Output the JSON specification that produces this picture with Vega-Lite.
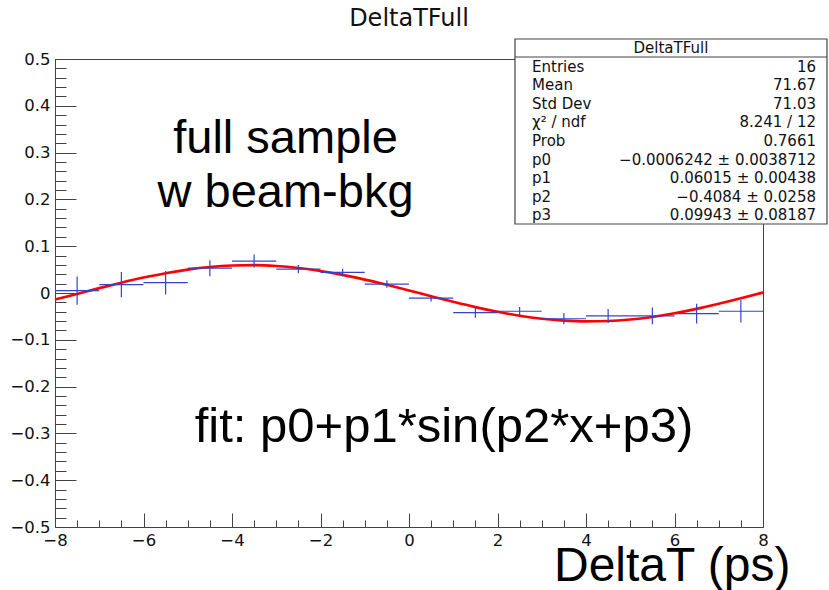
{
  "$schema": "https://vega.github.io/schema/vega-lite/v6.json",
  "width": 708,
  "height": 468,
  "autosize": "none",
  "padding": {"left": 55, "top": 59, "right": 66, "bottom": 63},
  "background": "white",
  "title": {"text": "DeltaTFull", "frame": "group", "anchor": "middle", "font": "DejaVu Sans", "fontSize": 24, "fontWeight": "normal", "color": "#111", "baseline": "alphabetic", "offset": -12},
  "config": {
    "view": {"stroke": "#444", "strokeWidth": 1},
    "axis": {"grid": false, "domainColor": "#444", "tickColor": "#444", "labelColor": "#111", "labelFont": "DejaVu Sans", "labelFontSize": 16.5, "labelOverlap": false, "labelFlush": false}
  },
  "resolve": {"axis": {"x": "independent", "y": "independent"}},
  "datasets": {
    "hist": [
      {"x": -7.5, "xlo": -8, "xhi": -7, "y": 0.005, "ylo": -0.025, "yhi": 0.035},
      {"x": -6.5, "xlo": -7, "xhi": -6, "y": 0.018, "ylo": -0.009, "yhi": 0.045},
      {"x": -5.5, "xlo": -6, "xhi": -5, "y": 0.022, "ylo": -0.003, "yhi": 0.047},
      {"x": -4.5, "xlo": -5, "xhi": -4, "y": 0.053, "ylo": 0.036, "yhi": 0.070},
      {"x": -3.5, "xlo": -4, "xhi": -3, "y": 0.068, "ylo": 0.054, "yhi": 0.082},
      {"x": -2.5, "xlo": -3, "xhi": -2, "y": 0.051, "ylo": 0.042, "yhi": 0.060},
      {"x": -1.5, "xlo": -2, "xhi": -1, "y": 0.044, "ylo": 0.036, "yhi": 0.052},
      {"x": -0.5, "xlo": -1, "xhi": 0, "y": 0.019, "ylo": 0.011, "yhi": 0.027},
      {"x": 0.5, "xlo": 0, "xhi": 1, "y": -0.011, "ylo": -0.018, "yhi": -0.004},
      {"x": 1.5, "xlo": 1, "xhi": 2, "y": -0.042, "ylo": -0.053, "yhi": -0.031},
      {"x": 2.5, "xlo": 2, "xhi": 3, "y": -0.039, "ylo": -0.048, "yhi": -0.030},
      {"x": 3.5, "xlo": 3, "xhi": 4, "y": -0.055, "ylo": -0.067, "yhi": -0.043},
      {"x": 4.5, "xlo": 4, "xhi": 5, "y": -0.049, "ylo": -0.064, "yhi": -0.034},
      {"x": 5.5, "xlo": 5, "xhi": 6, "y": -0.049, "ylo": -0.067, "yhi": -0.031},
      {"x": 6.5, "xlo": 6, "xhi": 7, "y": -0.044, "ylo": -0.065, "yhi": -0.023},
      {"x": 7.5, "xlo": 7, "xhi": 8, "y": -0.039, "ylo": -0.063, "yhi": -0.015}
    ],
    "fit": [
      {"x": -8, "y": -0.0140}, {"x": -7.5, "y": -0.0019}, {"x": -7, "y": 0.0104}, {"x": -6.5, "y": 0.0221},
      {"x": -6, "y": 0.0329}, {"x": -5.5, "y": 0.0424}, {"x": -5, "y": 0.0500}, {"x": -4.5, "y": 0.0556},
      {"x": -4, "y": 0.0587}, {"x": -3.5, "y": 0.0595}, {"x": -3, "y": 0.0577}, {"x": -2.5, "y": 0.0535},
      {"x": -2, "y": 0.0471}, {"x": -1.5, "y": 0.0387}, {"x": -1, "y": 0.0286}, {"x": -0.5, "y": 0.0174},
      {"x": 0, "y": 0.0054}, {"x": 0.5, "y": -0.0069}, {"x": 1, "y": -0.0189}, {"x": 1.5, "y": -0.0302},
      {"x": 2, "y": -0.0402}, {"x": 2.5, "y": -0.0485}, {"x": 3, "y": -0.0549}, {"x": 3.5, "y": -0.0590},
      {"x": 4, "y": -0.0607}, {"x": 4.5, "y": -0.0599}, {"x": 5, "y": -0.0567}, {"x": 5.5, "y": -0.0511},
      {"x": 6, "y": -0.0434}, {"x": 6.5, "y": -0.0339}, {"x": 7, "y": -0.0231}, {"x": 7.5, "y": -0.0113},
      {"x": 8, "y": 0.0010}
    ]
  },
  "layer": [
    {
      "data": {"name": "fit"},
      "mark": {"type": "line", "color": "#ff0000", "strokeWidth": 2.6, "interpolate": "monotone"},
      "encoding": {
        "x": {"field": "x", "type": "quantitative", "scale": {"domain": [-8, 8], "nice": false, "zero": false},
          "axis": {"orient": "bottom", "title": "DeltaT (ps)", "titleFont": "Liberation Sans", "titleFontSize": 48, "titleFontWeight": "normal", "titleColor": "#000",
            "titleAlign": "right", "titleX": 735, "titleY": 53, "titleBaseline": "alphabetic",
            "values": [-8,-6,-4,-2,0,2,4,6,8],
            "tickSize": -14,
            "format": "d",
            "labelPadding": 19}},
        "y": {"field": "y", "type": "quantitative", "scale": {"domain": [-0.5, 0.5], "nice": false, "zero": false},
          "axis": {"orient": "left", "title": null,
            "values": [-0.5,-0.4,-0.3,-0.2,-0.1,0,0.1,0.2,0.3,0.4,0.5],
            "tickSize": -21,
            "labelExpr": "abs(datum.value) < 0.001 ? '0' : format(datum.value, '.1f')",
            "labelPadding": 26}}
      }
    },
    {
      "data": {"name": "hist"},
      "mark": {"type": "rule", "color": "#3344cc", "strokeWidth": 1.2},
      "encoding": {
        "x": {"field": "xlo", "type": "quantitative",
          "axis": {"orient": "bottom", "title": null, "labels": false, "domain": false, "tickSize": -7,
            "values": [-8,-7.5,-7,-6.5,-6,-5.5,-5,-4.5,-4,-3.5,-3,-2.5,-2,-1.5,-1,-0.5,0,0.5,1,1.5,2,2.5,3,3.5,4,4.5,5,5.5,6,6.5,7,7.5,8]}},
        "x2": {"field": "xhi"},
        "y": {"field": "y", "type": "quantitative",
          "axis": {"orient": "left", "title": null, "labels": false, "domain": false, "tickSize": -11,
            "values": [-0.5,-0.48,-0.46,-0.44,-0.42,-0.4,-0.38,-0.36,-0.34,-0.32,-0.3,-0.28,-0.26,-0.24,-0.22,-0.2,-0.18,-0.16,-0.14,-0.12,-0.1,-0.08,-0.06,-0.04,-0.02,0,0.02,0.04,0.06,0.08,0.1,0.12,0.14,0.16,0.18,0.2,0.22,0.24,0.26,0.28,0.3,0.32,0.34,0.36,0.38,0.4,0.42,0.44,0.46,0.48,0.5]}}
      }
    },
    {
      "data": {"name": "hist"},
      "mark": {"type": "rule", "color": "#3344cc", "strokeWidth": 1.2},
      "encoding": {
        "x": {"field": "x", "type": "quantitative", "axis": null},
        "y": {"field": "ylo", "type": "quantitative", "axis": null},
        "y2": {"field": "yhi"}
      }
    },
    {
      "data": {"values": [{}]},
      "mark": {"type": "text", "font": "Liberation Sans", "fontSize": 47, "align": "center", "baseline": "alphabetic", "lineHeight": 54, "color": "#000"},
      "encoding": {
        "x": {"datum": -2.79, "type": "quantitative", "axis": null},
        "y": {"datum": 0.2991, "type": "quantitative", "axis": null},
        "text": {"value": ["full sample", "w beam-bkg"]}
      }
    },
    {
      "data": {"values": [{}]},
      "mark": {"type": "text", "font": "Liberation Sans", "fontSize": 49, "align": "center", "baseline": "alphabetic", "color": "#000"},
      "encoding": {
        "x": {"datum": 0.79, "type": "quantitative", "axis": null},
        "y": {"datum": -0.3184, "type": "quantitative", "axis": null},
        "text": {"value": "fit: p0+p1*sin(p2*x+p3)"}
      }
    },
    {
      "data": {"values": [{}]},
      "mark": {"type": "rect", "fill": "white", "stroke": "#444", "strokeWidth": 1.2},
      "encoding": {
        "x": {"datum": 2.395, "type": "quantitative", "axis": null},
        "x2": {"datum": 9.446},
        "y": {"datum": 0.5427, "type": "quantitative", "axis": null},
        "y2": {"datum": 0.1474}
      }
    },
    {
      "data": {"values": [{}]},
      "mark": {"type": "rule", "color": "#444", "strokeWidth": 1.2},
      "encoding": {
        "x": {"datum": 2.395, "type": "quantitative", "axis": null},
        "x2": {"datum": 9.446},
        "y": {"datum": 0.5043, "type": "quantitative", "axis": null}
      }
    },
    {
      "data": {"values": [{}]},
      "mark": {"type": "text", "font": "DejaVu Sans", "fontSize": 15, "align": "center", "baseline": "middle", "color": "#111"},
      "encoding": {
        "x": {"datum": 5.92, "type": "quantitative", "axis": null},
        "y": {"datum": 0.5235, "type": "quantitative", "axis": null},
        "text": {"value": "DeltaTFull"}
      }
    },
    {
      "data": {"values": [{}]},
      "mark": {"type": "text", "font": "DejaVu Sans", "fontSize": 15, "align": "left", "baseline": "alphabetic", "lineHeight": 18.6, "color": "#111"},
      "encoding": {
        "x": {"datum": 2.78, "type": "quantitative", "axis": null},
        "y": {"datum": 0.4731, "type": "quantitative", "axis": null},
        "text": {"value": ["Entries", "Mean", "Std Dev", "χ² / ndf", "Prob", "p0", "p1", "p2", "p3"]}
      }
    },
    {
      "data": {"values": [{}]},
      "mark": {"type": "text", "font": "DejaVu Sans", "fontSize": 15, "align": "right", "baseline": "alphabetic", "lineHeight": 18.6, "color": "#111"},
      "encoding": {
        "x": {"datum": 9.198, "type": "quantitative", "axis": null},
        "y": {"datum": 0.4731, "type": "quantitative", "axis": null},
        "text": {"value": ["16", "71.67", "71.03", "8.241 / 12", "0.7661", "−0.0006242 ± 0.0038712", "0.06015 ± 0.00438", "−0.4084 ± 0.0258", "0.09943 ± 0.08187"]}
      }
    }
  ]
}
